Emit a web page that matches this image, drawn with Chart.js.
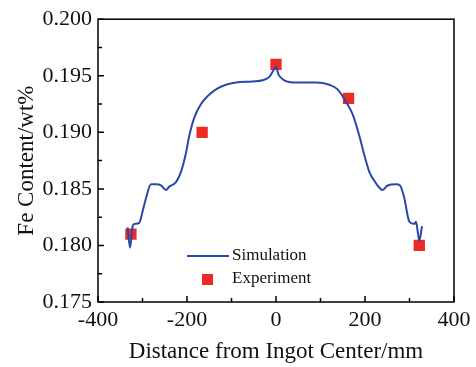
<!DOCTYPE html>
<html>
<head>
<meta charset="utf-8">
<script src="https://cdn.jsdelivr.net/npm/chart.js@4"></script>
<style>
  html, body { margin: 0; padding: 0; background: #fff; }
  #wrap { width: 476px; height: 367px; }
</style>
</head>
<body>
<div id="wrap"><canvas id="myChart"></canvas></div>
<script>
// simulation curve
const simX = [-333.5, -328, -322.2, -318.4, -307.2, -299.8, -292.1, -280.9, -269.7, -258.4,
  -247.2, -239.8, -224.7, -213.5, -202.2, -194.8, -183.6, -168.5, -153.7, -134.8,
  -112.4, -89.9, -52.6, -30.1, -15.1, -3.8, 0, 5.8, 18.7, 44.9,
  89.9, 119.8, 138.4, 157.3, 172.1, 187.2, 198.4, 209.7, 224.7, 239.6,
  250.8, 269.7, 278.7, 288.3, 299.6, 310.8, 314.6, 318.2, 322, 328.1];
const simY = [0.1816, 0.1798, 0.1817, 0.1819, 0.1820, 0.1830, 0.1842, 0.1854, 0.1854, 0.1853,
  0.1849, 0.1852, 0.1856, 0.1865, 0.1882, 0.1897, 0.1913, 0.1925, 0.1932, 0.1938,
  0.1942, 0.1944, 0.1945, 0.1946, 0.1949, 0.1956, 0.1958, 0.1951, 0.1946, 0.1944,
  0.1944, 0.1942, 0.1938, 0.1927, 0.1916, 0.1897, 0.1880, 0.1865, 0.1855, 0.1849,
  0.1853, 0.1854, 0.1853, 0.1842, 0.1821, 0.1819, 0.1821, 0.1813, 0.1804, 0.1817];

// experiment points
const expX = [-326, -166, 0, 163, 322];
const expY = [0.181, 0.190, 0.196, 0.193, 0.180];

const xTicks = [-400, -200, 0, 200, 400];
const yTicks = [0.175, 0.180, 0.185, 0.190, 0.195, 0.200];

const FONT = '"Liberation Serif", "Times New Roman", serif';
const blue = 'rgb(42,72,170)';
const red = 'rgb(238,42,36)';

const toXY = (xs, ys) => xs.map((v, i) => ({x: v, y: ys[i]}));

// box + inward ticks (major and minor)
const frame = {
    id: 'frame',
    afterDraw(chart) {
        const ctx = chart.ctx;
        const a = chart.chartArea;
        const sx = chart.scales.x, sy = chart.scales.y;
        ctx.save();
        ctx.strokeStyle = '#000';
        ctx.lineWidth = 1.5;
        ctx.strokeRect(a.left, a.top, a.right - a.left, a.bottom - a.top);
        ctx.beginPath();
        for (let v = -400; v <= 400; v += 100) {
            const p = sx.getPixelForValue(v);
            const len = (v % 200 === 0) ? 6 : 4;
            ctx.moveTo(p, a.bottom);
            ctx.lineTo(p, a.bottom - len);
        }
        for (let i = 0; i <= 10; i++) {
            const v = 0.175 + i * 0.0025;
            const p = sy.getPixelForValue(v);
            const len = (i % 2 === 0) ? 6 : 4;
            ctx.moveTo(a.left, p);
            ctx.lineTo(a.left + len, p);
        }
        ctx.stroke();
        ctx.restore();
    }
};

// legend drawn inside the plot area
const innerLegend = {
    id: 'innerLegend',
    afterDraw(chart) {
        const ctx = chart.ctx;
        const ds = chart.data.datasets;
        ctx.save();
        ctx.font = '17px ' + FONT;
        ctx.textBaseline = 'middle';
        ctx.fillStyle = '#111';
        // line sample
        ctx.strokeStyle = ds[0].borderColor;
        ctx.lineWidth = 2;
        ctx.beginPath();
        ctx.moveTo(187, 256);
        ctx.lineTo(229, 256);
        ctx.stroke();
        ctx.fillText(ds[0].label, 232, 256);
        // square sample
        ctx.fillStyle = ds[1].backgroundColor;
        ctx.fillRect(202, 274, 11, 11);
        ctx.fillStyle = '#111';
        ctx.fillText(ds[1].label, 232, 279);
        ctx.restore();
    }
};

const config = {
    type: 'scatter',
    data: {
        datasets: [{
            label: 'Simulation',
            data: toXY(simX, simY),
            showLine: true,
            borderColor: blue,
            backgroundColor: blue,
            borderWidth: 2,
            pointRadius: 0,
            cubicInterpolationMode: 'monotone'
        }, {
            label: 'Experiment',
            data: toXY(expX, expY),
            pointStyle: 'rect',
            pointRadius: 8,
            backgroundColor: red,
            borderColor: red,
            borderWidth: 0
        }]
    },
    options: {
        responsive: true,
        maintainAspectRatio: false,
        animation: false,
        layout: { padding: { top: 15, right: 22, left: 0, bottom: 0 } },
        plugins: {
            legend: { display: false },
            tooltip: { enabled: false }
        },
        scales: {
            x: {
                type: 'linear',
                min: -400,
                max: 400,
                afterBuildTicks: s => { s.ticks = xTicks.map(v => ({value: v})); },
                afterFit: s => { s.height = 65; },
                grid: { display: false, drawTicks: false },
                border: { display: false },
                ticks: { color: '#111', padding: 5, font: { family: FONT, size: 22 }, maxRotation: 0 },
                title: { display: true, text: 'Distance from Ingot Center/mm', color: '#111',
                         font: { family: FONT, size: 23 }, padding: { top: 0, bottom: 1 } }
            },
            y: {
                type: 'linear',
                min: 0.175,
                max: 0.200,
                afterBuildTicks: s => { s.ticks = yTicks.map(v => ({value: v})); },
                afterFit: s => { s.width = 98; },
                grid: { display: false, drawTicks: false },
                border: { display: false },
                ticks: { color: '#111', padding: 6, font: { family: FONT, size: 22 },
                         callback: v => v.toFixed(3) },
                title: { display: true, text: 'Fe Content/wt%', color: '#111',
                         font: { family: FONT, size: 23 }, padding: { top: 13, bottom: 0 } }
            }
        }
    },
    plugins: [frame, innerLegend]
};

const myChart = new Chart(document.getElementById('myChart'), config);
</script>
</body>
</html>
